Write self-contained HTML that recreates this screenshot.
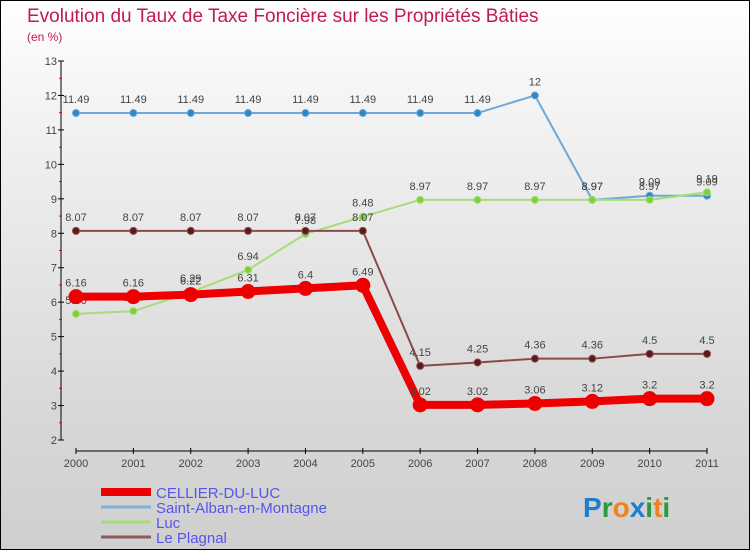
<!DOCTYPE html>
<html><head><meta charset="utf-8"><style>
body{margin:0}
#c{width:748px;height:548px;border:1px solid #000;background:linear-gradient(#fff,#f3f3f3 20%,#d8d8d8 75%,#cfcfcf);position:relative;font-family:"Liberation Sans",sans-serif;overflow:hidden}
svg{position:absolute;left:0;top:0}
</style></head><body>
<div id="c">
<svg id="s" width="750" height="550">
<text x="26" y="21" font-size="19" fill="#c2185b">Evolution du Taux de Taxe Foncière sur les Propriétés Bâties</text>
<text x="26" y="40" font-size="12" fill="#c2185b">(en %)</text>
</svg>
</div>
<script>
const years=[2000,2001,2002,2003,2004,2005,2006,2007,2008,2009,2010,2011];
const cellier=[6.16,6.16,6.22,6.31,6.4,6.49,3.02,3.02,3.06,3.12,3.2,3.2];
const alban=[11.49,11.49,11.49,11.49,11.49,11.49,11.49,11.49,12,8.97,9.09,9.09];
const luc=[5.66,5.74,6.29,6.94,7.98,8.48,8.97,8.97,8.97,8.97,8.97,9.19];
const plagnal=[8.07,8.07,8.07,8.07,8.07,8.07,4.15,4.25,4.36,4.36,4.5,4.5];
const yTicks=[2,3,4,5,6,7,8,9,10,11,12,13];
const NS="http://www.w3.org/2000/svg";
const s=document.getElementById('s');
const X=i=>75+i*(706-75)/11;
const Y=v=>439-(v-2)*(379/11);
function el(t,a){const e=document.createElementNS(NS,t);for(const k in a)e.setAttribute(k,a[k]);s.appendChild(e);return e;}
let e;
e=el('line',{x1:60,y1:60,x2:60,y2:439,stroke:'#000','stroke-width':1});


e=el('line',{x1:75,y1:450,x2:706,y2:450,stroke:'#000','stroke-width':1});


yTicks.forEach((t,i)=>{
 el('line',{x1:57,y1:Y(t),x2:63,y2:Y(t),stroke:'#000'});
 if(i<yTicks.length-1) el('line',{x1:58,y1:Y(t+0.5),x2:61,y2:Y(t+0.5),stroke:'#e00'});
 e=el('text',{x:56,y:Y(t)+4,'font-size':11,fill:'#444','text-anchor':'end'});e.textContent=t;
 
 
});
years.forEach((y,i)=>{
 el('line',{x1:X(i),y1:447,x2:X(i),y2:453,stroke:'#000'});
 e=el('text',{x:X(i),y:466,'font-size':11,fill:'#444','text-anchor':'middle'});e.textContent=y;
 
 
});
function series(d,col,w,r,name,dark){
 const pts=d.map((v,i)=>X(i)+','+Y(v)).join(' ');
 e=el('polyline',{points:pts,fill:'none',stroke:col,'stroke-width':w,'stroke-linejoin':'round'});
 
 
 d.forEach((v,i)=>{
  e=el('circle',{cx:X(i),cy:Y(v),r:r,fill:dark,stroke:col});
  
  
  e=el('text',{x:X(i),y:Y(v)-10,'font-size':11,fill:'#444','text-anchor':'middle'});e.textContent=v;
  
  
 });
}
series(alban,'#6fa8d6',2,3.5,'saint-alban','#2e86c8');
series(luc,'#a6dd77',2,3.5,'luc','#7cd03b');
series(plagnal,'#8b4a4a',2,3.5,'le-plagnal','#5a1a1a');
series(cellier,'#ee0000',8,7,'cellier-du-luc','#ee0000');
const leg=[['CELLIER-DU-LUC','#ee0000',8],['Saint-Alban-en-Montagne','#7fb0d6',3],['Luc','#a6dd77',3],['Le Plagnal','#8b5a5a',3]];
leg.forEach((l,i)=>{
 const y=491+i*15;
 e=el('line',{x1:100,y1:y,x2:150,y2:y,stroke:l[1],'stroke-width':l[2]});
 
 
 e=el('text',{x:155,y:y+6,'font-size':15,fill:'#5555ee'});e.textContent=l[0];
 
 
});
e=el('text',{x:582,y:516,'font-size':28,'font-weight':'bold'});


[['P','#1a7fd0'],['r','#2a9a3a'],['o','#f08020'],['x','#1a7fd0'],['i','#2a9a3a'],['t','#f08020'],['i','#2a9a3a']].forEach(c=>{const t=document.createElementNS(NS,'tspan');t.setAttribute('fill',c[1]);t.textContent=c[0];e.appendChild(t);});
</script>
</body></html>
